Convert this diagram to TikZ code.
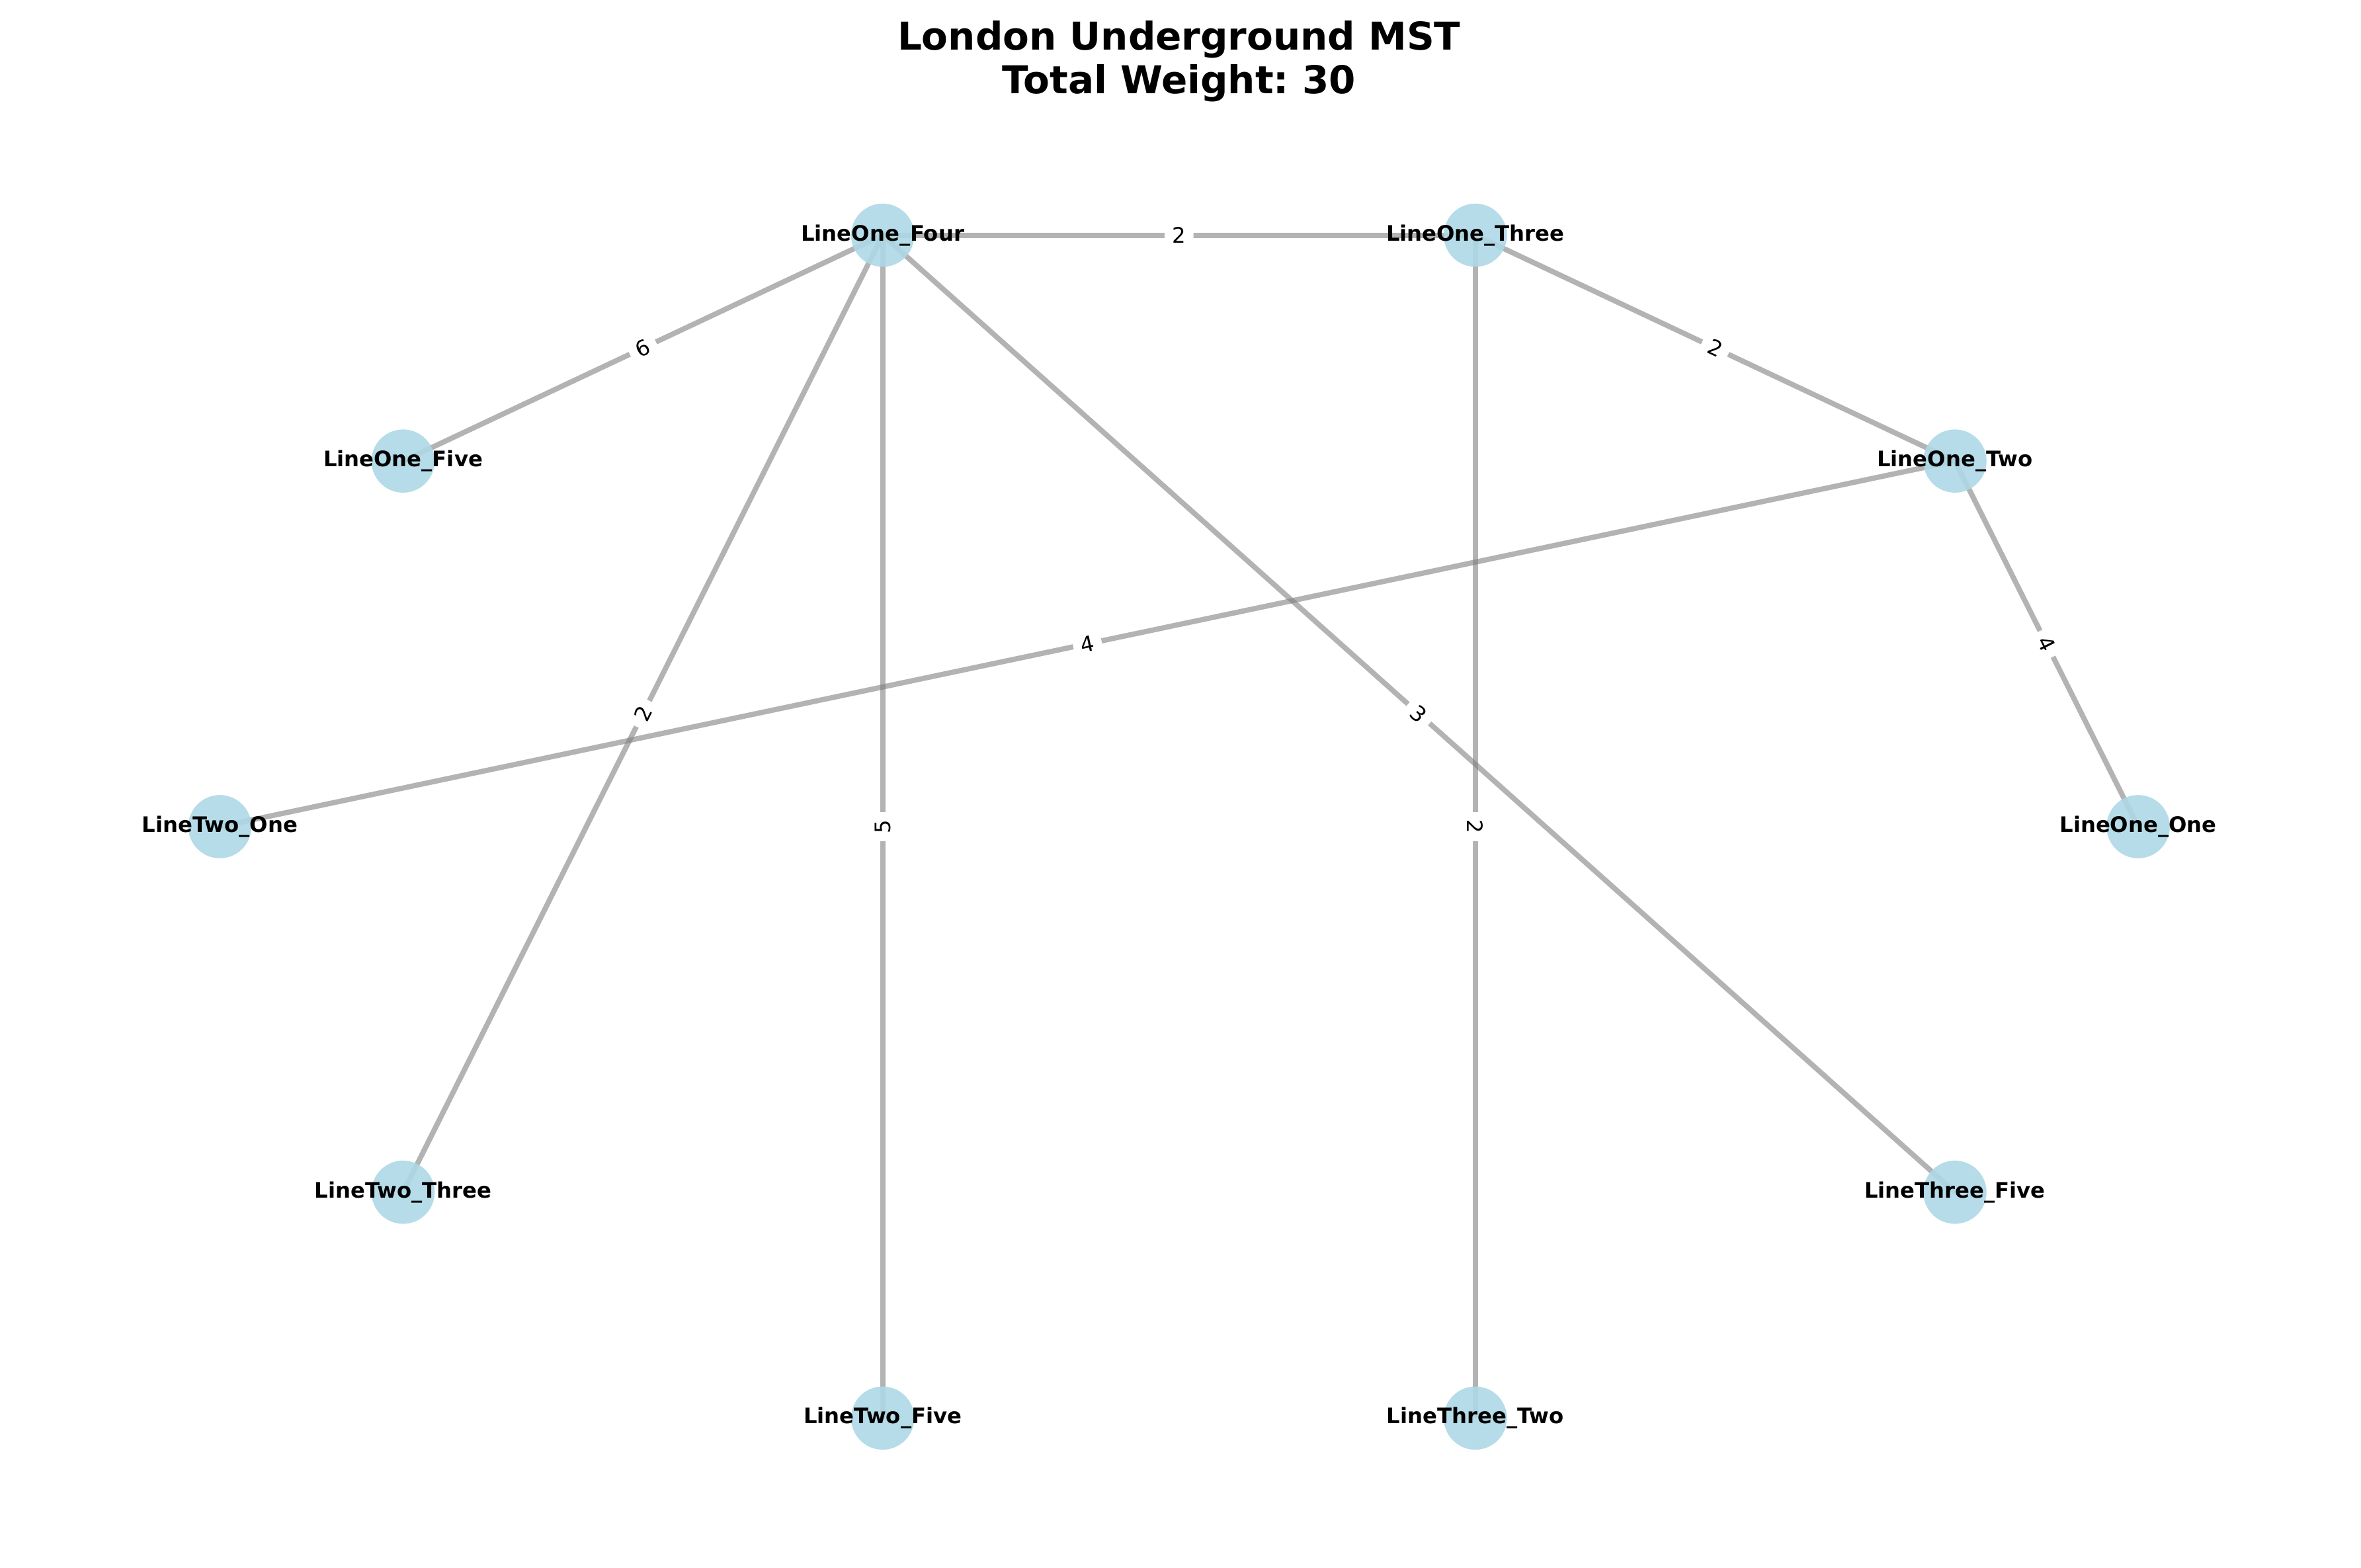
\documentclass[tikz,border=0pt]{standalone}
\usepackage{fontspec}
\setmainfont{DejaVu Sans}
\frenchspacing
\definecolor{lightblue}{RGB}{173,216,230}
\definecolor{edgegray}{RGB}{128,128,128}
\pgfdeclarelayer{bg}
\pgfsetlayers{bg,main}
\tikzset{
  station/.style={circle, fill=lightblue, fill opacity=0.9, minimum size=10.2mm, inner sep=0pt},
  slabel/.style={inner sep=0pt, font=\fontsize{9.8}{11}\selectfont\bfseries},
  conn/.style={draw=edgegray, draw opacity=0.6, line width=2.4pt},
  elabel/.style={fill=white, rounded corners=3pt, inner sep=3.5pt, font=\fontsize{9.8}{11}\selectfont},
  titletext/.style={font=\fontsize{17.6}{21}\selectfont\bfseries, anchor=base}
}
\begin{document}
\begin{tikzpicture}[x=0.24299mm, y=-0.24299mm]
\useasboundingbox (0,0) rectangle (1568,1041);

\node[titletext] (t1) at (783,33) {London Underground MST};
\node[titletext] (t2) at (783,62) {Total Weight: 30};

\node[station] (LOOne)   at (1420,549)     {};
\node[station] (LOTwo)   at (1298.3,306.2) {};
\node[station] (LOThree) at (979.8,156.2)  {};
\node[station] (LOFour)  at (586.2,156.2)  {};
\node[station] (LOFive)  at (267.7,306.2)  {};
\node[station] (LTOne)   at (146,549)      {};
\node[station] (LTThree) at (267.7,791.8)  {};
\node[station] (LTFive)  at (586.2,941.8)  {};
\node[station] (LHTwo)   at (979.8,941.8)  {};
\node[station] (LHFive)  at (1298.3,791.8) {};

\node[slabel] (LOOne-l)   at (LOOne)   {LineOne\_One};
\node[slabel] (LOTwo-l)   at (LOTwo)   {LineOne\_Two};
\node[slabel] (LOThree-l) at (LOThree) {LineOne\_Three};
\node[slabel] (LOFour-l)  at (LOFour)  {LineOne\_Four};
\node[slabel] (LOFive-l)  at (LOFive)  {LineOne\_Five};
\node[slabel] (LTOne-l)   at (LTOne)   {LineTwo\_One};
\node[slabel] (LTThree-l) at (LTThree) {LineTwo\_Three};
\node[slabel] (LTFive-l)  at (LTFive)  {LineTwo\_Five};
\node[slabel] (LHTwo-l)   at (LHTwo)   {LineThree\_Two};
\node[slabel] (LHFive-l)  at (LHFive)  {LineThree\_Five};

\begin{pgfonlayer}{bg}
\draw[conn] (LOFour.center) -- (LOThree.center);
\draw[conn] (LOFour.center) -- (LOFive.center);
\draw[conn] (LOFour.center) -- (LTThree.center);
\draw[conn] (LOFour.center) -- (LTFive.center);
\draw[conn] (LOFour.center) -- (LHFive.center);
\draw[conn] (LOThree.center) -- (LOTwo.center);
\draw[conn] (LOThree.center) -- (LHTwo.center);
\draw[conn] (LOTwo.center) -- (LTOne.center);
\draw[conn] (LOTwo.center) -- (LOOne.center);
\end{pgfonlayer}

\path (LOFour.center) -- node[elabel, rotate=0] (w1) {2} (LOThree.center);
\path (LOFour.center) -- node[elabel, rotate=25.2] (w2) {6} (LOFive.center);
\path (LOFour.center) -- node[elabel, rotate=63.4] (w3) {2} (LTThree.center);
\path (LOFour.center) -- node[elabel, rotate=90] (w4) {5} (LTFive.center);
\path (LOFour.center) -- node[elabel, rotate=-41.75] (w5) {3} (LHFive.center);
\path (LOThree.center) -- node[elabel, rotate=-25.2] (w6) {2} (LOTwo.center);
\path (LOThree.center) -- node[elabel, rotate=-90] (w7) {2} (LHTwo.center);
\path (LOTwo.center) -- node[elabel, rotate=11.9] (w8) {4} (LTOne.center);
\path (LOTwo.center) -- node[elabel, rotate=-63.4] (w9) {4} (LOOne.center);
\end{tikzpicture}
\end{document}
